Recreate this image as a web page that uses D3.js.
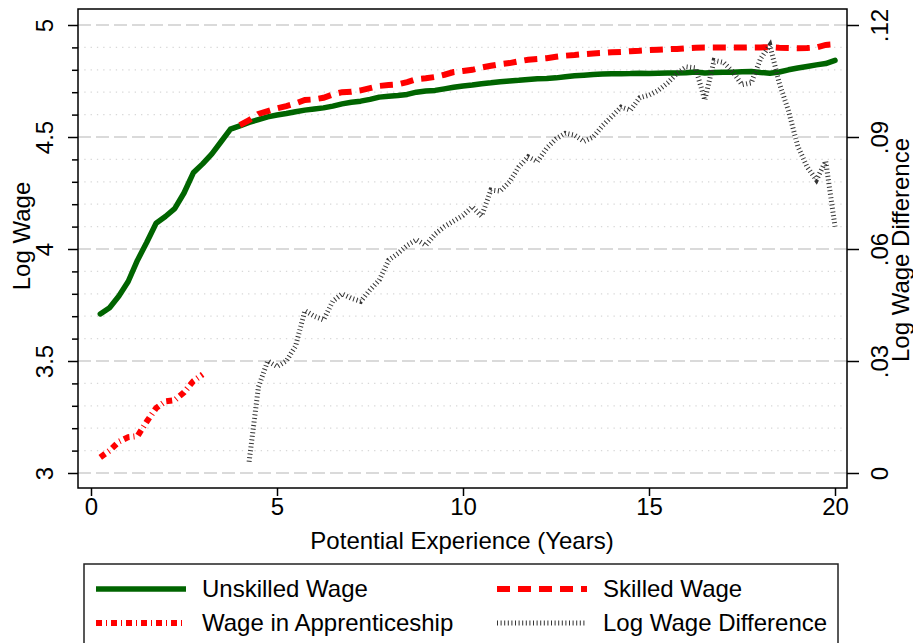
<!DOCTYPE html>
<html>
<head>
<meta charset="utf-8">
<script src="https://cdn.jsdelivr.net/npm/d3@7"></script>
<style>
  html, body { margin: 0; padding: 0; background: #fff; }
  svg { display: block; font-family: "Liberation Sans", Arial, Helvetica, sans-serif; }
</style>
</head>
<body>
<svg id="chart" width="913" height="643"></svg>
<script>
// ---------------- DATA ----------------
const experience = [0.25,0.5,0.75,1,1.25,1.5,1.75,2,2.25,2.5,2.75,3,3.25,3.5,3.75,4,
  4.25,4.5,4.75,5,5.25,5.5,5.75,6,6.25,6.5,6.75,7,7.25,7.5,7.75,8,
  8.25,8.5,8.75,9,9.25,9.5,9.75,10,10.25,10.5,10.75,11,11.25,11.5,11.75,12,
  12.25,12.5,12.75,13,13.25,13.5,13.75,14,14.25,14.5,14.75,15,15.25,15.5,15.75,16,
  16.25,16.5,16.75,17,17.25,17.5,17.75,18,18.25,18.5,18.75,19,19.25,19.5,19.75,20];

const unskilledWage = [3.71,3.738,3.79,3.855,3.95,4.03,4.115,4.145,4.18,4.25,4.34,4.38,4.425,4.48,4.535,4.55,
  4.565,4.578,4.59,4.598,4.605,4.613,4.62,4.625,4.63,4.638,4.648,4.655,4.66,4.668,4.678,4.682,
  4.685,4.69,4.70,4.705,4.708,4.715,4.722,4.728,4.732,4.738,4.742,4.747,4.75,4.753,4.757,4.76,
  4.761,4.764,4.769,4.773,4.776,4.779,4.781,4.782,4.782,4.783,4.785,4.784,4.785,4.786,4.786,4.787,
  4.79,4.786,4.788,4.789,4.789,4.791,4.792,4.788,4.785,4.79,4.80,4.808,4.815,4.822,4.828,4.842];

// starts at 4.0 years
const skilledWage = [4.553,
  4.575,4.603,4.615,4.628,4.638,4.65,4.665,4.668,4.675,4.69,4.70,4.702,4.708,4.718,4.728,4.732,
  4.735,4.745,4.758,4.762,4.768,4.778,4.79,4.795,4.80,4.81,4.818,4.825,4.83,4.838,4.845,4.848,
  4.852,4.858,4.863,4.866,4.87,4.873,4.875,4.878,4.88,4.883,4.885,4.888,4.89,4.892,4.893,4.896,
  4.898,4.899,4.899,4.899,4.899,4.899,4.90,4.90,4.901,4.898,4.897,4.896,4.897,4.90,4.911,4.914];

// 0.25 .. 3.0 years
const apprenticeWage = [3.07,3.10,3.14,3.16,3.165,3.23,3.29,3.32,3.325,3.36,3.41,3.44];

// starts at 4.25 years
const logWageDiff = [0.003,0.023,0.030,0.0285,0.030,0.034,0.0435,0.042,0.041,0.046,0.048,0.0468,0.046,0.049,0.0517,0.057,
  0.0588,0.061,0.0625,0.061,0.064,0.066,0.0675,0.069,0.0713,0.0688,0.0758,0.0755,0.078,0.082,0.0847,0.0834,
  0.087,0.0895,0.091,0.0905,0.0888,0.090,0.093,0.0955,0.098,0.0972,0.1005,0.1012,0.1025,0.1045,0.107,0.1088,
  0.1085,0.0999,0.1105,0.110,0.1075,0.104,0.1045,0.111,0.1146,0.1045,0.097,0.0875,0.082,0.0785,0.0835,0.066];

const xTicks = [0, 5, 10, 15, 20];
const leftTicks = [3, 3.5, 4, 4.5, 5];
const leftMinorTicks = [3.1,3.2,3.3,3.4,3.6,3.7,3.8,3.9,4.1,4.2,4.3,4.4,4.6,4.7,4.8,4.9];
const rightTicks = [0, 0.03, 0.06, 0.09, 0.12];
const legendLabels = ["Unskilled Wage", "Skilled Wage", "Wage in Apprenticeship", "Log Wage Difference"];

// ---------------- CHART ----------------
const svg = d3.select("#chart");
const W = 913, H = 643;
svg.append("rect").attr("width", W).attr("height", H).attr("fill", "#fff");

const frame = {left: 78, right: 847, top: 9, bottom: 488};
const x = d3.scaleLinear().domain([0, 20]).range([91, 835]);
const yL = d3.scaleLinear().domain([3, 5]).range([473, 25]);
const yR = d3.scaleLinear().domain([0, 0.12]).range([473, 25]);

const FS = 24;

// grid lines
const grid = svg.append("g");
grid.selectAll("line.minor").data(leftMinorTicks).join("line")
  .attr("x1", frame.left).attr("x2", frame.right)
  .attr("y1", d => yL(d)).attr("y2", d => yL(d))
  .attr("stroke", "#d8d8d8").attr("stroke-width", 1.3).attr("stroke-dasharray", "1.3,5");
grid.selectAll("line.major").data(leftTicks).join("line")
  .attr("x1", frame.left).attr("x2", frame.right)
  .attr("y1", d => yL(d)).attr("y2", d => yL(d))
  .attr("stroke", "#dadada").attr("stroke-width", 2).attr("stroke-dasharray", "13,5");

// series
const pts = (xs, ys, sc) => ys.map((v, i) => [x(xs[i]), sc(v)]);
const line = d3.line();

svg.append("path")
  .attr("d", line(pts(experience, unskilledWage, yL)))
  .attr("fill", "none").attr("stroke", "#006400").attr("stroke-width", 5.5)
  .attr("stroke-linejoin", "round").attr("stroke-linecap", "round");

svg.append("path")
  .attr("d", line(pts(experience.slice(15), skilledWage, yL)))
  .attr("fill", "none").attr("stroke", "#ff0000").attr("stroke-width", 6)
  .attr("stroke-dasharray", "13,8");

svg.append("path")
  .attr("d", line(pts(experience.slice(0, 12), apprenticeWage, yL)))
  .attr("fill", "none").attr("stroke", "#ff0000").attr("stroke-width", 6)
  .attr("stroke-dasharray", "6,4,1,4");

svg.append("path")
  .attr("d", line(pts(experience.slice(16), logWageDiff, yR)))
  .attr("fill", "none").attr("stroke", "#333").attr("stroke-width", 5)
  .attr("stroke-dasharray", "1,2.6");

// frame
svg.append("rect")
  .attr("x", frame.left).attr("y", frame.top)
  .attr("width", frame.right - frame.left).attr("height", frame.bottom - frame.top)
  .attr("fill", "none").attr("stroke", "#000").attr("stroke-width", 1.5);

// axes
const fmtL = d => d3.format("")(d);
const fmtR = d => d === 0 ? "0" : d3.format(".2f")(d).replace(/^0/, "");

const gL = svg.append("g").attr("transform", `translate(${frame.left},0)`)
  .call(d3.axisLeft(yL).tickValues(leftTicks).tickSize(10).tickFormat(fmtL));
const gLm = svg.append("g").attr("transform", `translate(${frame.left},0)`)
  .call(d3.axisLeft(yL).tickValues(leftMinorTicks).tickSize(6).tickFormat(""));
const gR = svg.append("g").attr("transform", `translate(${frame.right},0)`)
  .call(d3.axisRight(yR).tickValues(rightTicks).tickSize(12).tickFormat(fmtR));
const gX = svg.append("g").attr("transform", `translate(0,${frame.bottom})`)
  .call(d3.axisBottom(x).tickValues(xTicks).tickSize(8).tickFormat(d3.format("d")));

[gL, gLm, gR, gX].forEach(g => {
  g.select(".domain").remove();
  g.selectAll(".tick line").attr("stroke", "#000").attr("stroke-width", 1.5);
  g.selectAll("text").attr("font-size", FS).attr("fill", "#000")
    .attr("font-family", '"Liberation Sans", Arial, sans-serif');
});

gL.selectAll(".tick text")
  .attr("transform", "rotate(-90)").attr("text-anchor", "middle")
  .attr("x", 0).attr("y", -33).attr("dy", "0.35em");
gR.selectAll(".tick text")
  .attr("transform", "rotate(-90)").attr("text-anchor", "middle")
  .attr("x", 0).attr("y", 33).attr("dy", "0.35em");
gX.selectAll(".tick text").attr("y", 10).attr("dy", "0.71em");

// axis titles
svg.append("text").attr("transform", "translate(30,236) rotate(-90)")
  .attr("text-anchor", "middle").attr("font-size", FS).text("Log Wage");
svg.append("text").attr("transform", "translate(909,250) rotate(-90)")
  .attr("text-anchor", "middle").attr("font-size", FS).text("Log Wage Difference");
svg.append("text").attr("x", 462).attr("y", 549)
  .attr("text-anchor", "middle").attr("font-size", FS).text("Potential Experience (Years)");

// legend
const lg = svg.append("g");
lg.append("rect").attr("x", 84).attr("y", 564).attr("width", 754).attr("height", 100)
  .attr("fill", "#fff").attr("stroke", "#222").attr("stroke-width", 1.5);

const legendItems = [
  {label: legendLabels[0], x0: 96, y: 589, stroke: "#006400", w: 5.5, dash: null},
  {label: legendLabels[1], x0: 497, y: 589, stroke: "#ff0000", w: 6, dash: "13,8"},
  {label: legendLabels[2], x0: 96, y: 623, stroke: "#ff0000", w: 6, dash: "6,4,1,4"},
  {label: legendLabels[3], x0: 497, y: 623, stroke: "#333", w: 5, dash: "1,2.6"}
];
legendItems.forEach(it => {
  lg.append("line").attr("x1", it.x0).attr("x2", it.x0 + 90)
    .attr("y1", it.y).attr("y2", it.y)
    .attr("stroke", it.stroke).attr("stroke-width", it.w)
    .attr("stroke-dasharray", it.dash);
  lg.append("text").attr("x", it.x0 + 106).attr("y", it.y).attr("dy", "0.35em")
    .attr("font-size", FS).text(it.label);
});
</script>
</body>
</html>
